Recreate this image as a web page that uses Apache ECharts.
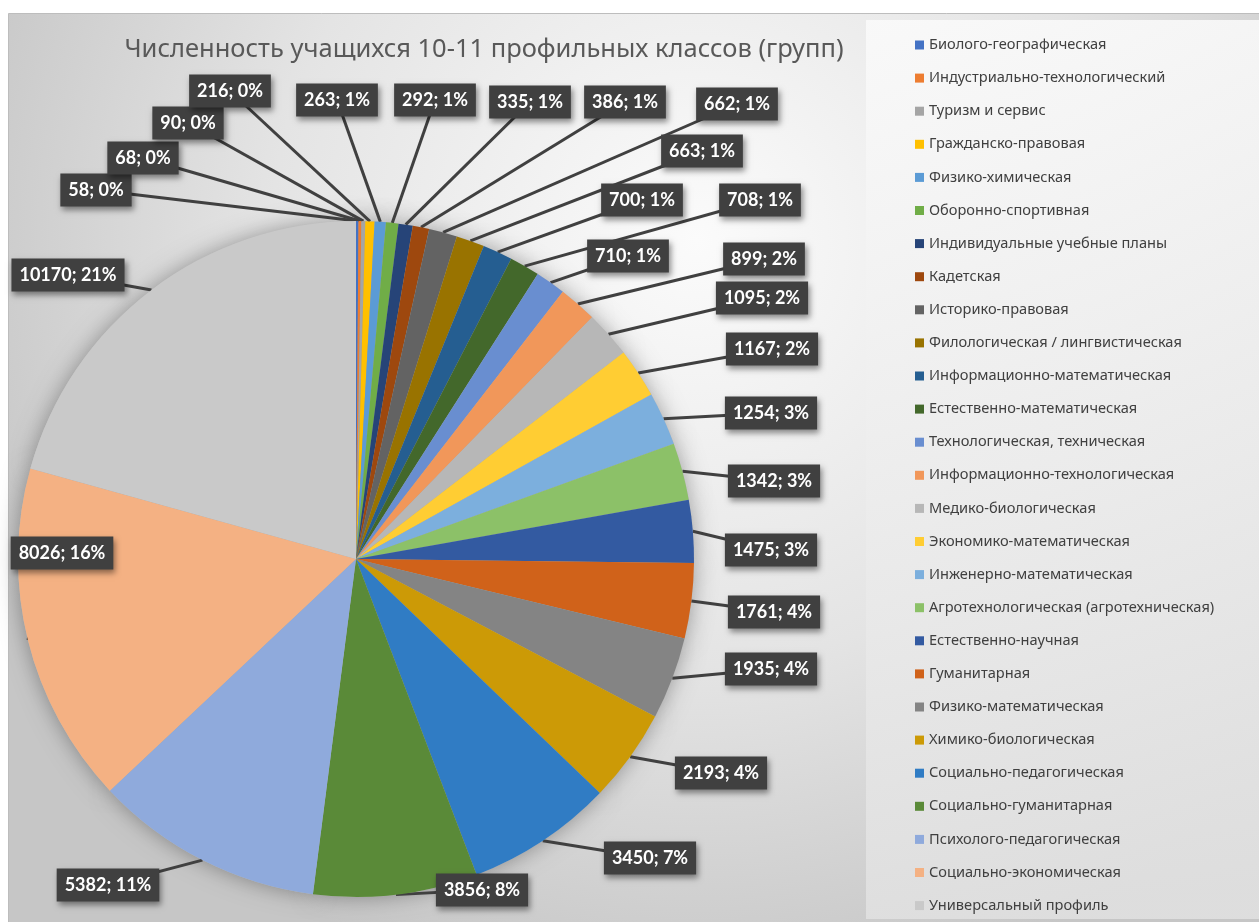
<!DOCTYPE html>
<html>
<head>
<meta charset="utf-8">
<title>Численность учащихся 10-11 профильных классов</title>
<script src="https://cdn.jsdelivr.net/npm/echarts@6/dist/echarts.min.js"></script>
<style>
  html, body { margin: 0; padding: 0; background: #fff; }
  #chart { width: 1259px; height: 922px; }
</style>
</head>
<body>
<div id="chart"></div>
<script>
// профили (порядок как в легенде)
var profiles = [
  'Биолого-географическая',
  'Индустриально-технологический',
  'Туризм и сервис',
  'Гражданско-правовая',
  'Физико-химическая',
  'Оборонно-спортивная',
  'Индивидуальные учебные планы',
  'Кадетская',
  'Историко-правовая',
  'Филологическая / лингвистическая',
  'Информационно-математическая',
  'Естественно-математическая',
  'Технологическая, техническая',
  'Информационно-технологическая',
  'Медико-биологическая',
  'Экономико-математическая',
  'Инженерно-математическая',
  'Агротехнологическая (агротехническая)',
  'Естественно-научная',
  'Гуманитарная',
  'Физико-математическая',
  'Химико-биологическая',
  'Социально-педагогическая',
  'Социально-гуманитарная',
  'Психолого-педагогическая',
  'Социально-экономическая',
  'Универсальный профиль'
];

// численность учащихся
var pupils = [58, 68, 90, 216, 263, 292, 335, 386, 662, 663, 700, 708, 710, 899,
  1095, 1167, 1254, 1342, 1475, 1761, 1935, 2193, 3450, 3856, 5382, 8026, 10170];

// цвета (палитра Office)
var colors = [
  '#4472C4', '#ED7D31', '#A5A5A5', '#FFC000', '#5B9BD5', '#70AD47',
  '#264478', '#9E480E', '#636363', '#997300', '#255E91', '#43682B',
  '#698ED0', '#F1975A', '#B7B7B7', '#FFCD33', '#7CAFDD', '#8CC168',
  '#335AA1', '#D0621A', '#848484', '#CC9A06', '#307CC4', '#5A8A38',
  '#8FAADC', '#F4B183', '#C9C9C9'
];

// где стоят подписи (центр плашки, px) - только раскладка
var labelPos = [
  [96, 190], [143, 158], [188, 123], [230, 91], [337, 100], [435, 100],
  [530, 102], [625, 102], [737, 104], [702, 151], [642, 200], [760, 200],
  [628, 256], [764, 259], [762, 298], [772, 349], [771, 413], [774, 481],
  [771, 550], [774, 612], [771, 669], [721, 773], [650, 858], [482, 890],
  [108, 885], [62, 553], [68, 275]
];

var total = pupils.reduce(function(a, b) { return a + b; }, 0);

var pieData = profiles.map(function(name, i) {
  return { name: name, value: pupils[i], itemStyle: { color: colors[i] } };
});

var option = {
  backgroundColor: '#ffffff',
  animation: false,
  graphic: [
    {
      type: 'rect',
      left: 8,
      top: 13,
      z: -10,
      shape: { width: 1251, height: 909 },
      style: {
        fill: new echarts.graphic.RadialGradient(0.55, 0.25, 0.85, [
          { offset: 0, color: '#fbfbfb' },
          { offset: 0.55, color: '#e4e4e4' },
          { offset: 1, color: '#c6c6c6' }
        ]),
        stroke: '#bdbdbd',
        lineWidth: 1
      }
    },
    {
      type: 'rect',
      left: 866,
      top: 20,
      z: -9,
      shape: { width: 393, height: 899 },
      style: {
        fill: new echarts.graphic.LinearGradient(0, 0, 0.3, 1, [
          { offset: 0, color: 'rgba(250,250,250,0.9)' },
          { offset: 1, color: 'rgba(224,224,224,0.9)' }
        ])
      }
    }
  ],
  title: {
    text: 'Численность учащихся 10-11 профильных классов (групп)',
    left: 479,
    textAlign: 'center',
    top: 32,
    textStyle: {
      color: '#595959',
      fontSize: 25.5,
      fontWeight: 'normal',
      fontFamily: 'Noto Sans'
    }
  },
  legend: {
    orient: 'vertical',
    left: 910,
    top: 31,
    icon: 'rect',
    itemWidth: 9,
    itemHeight: 9,
    itemGap: 15.1,
    data: profiles,
    selectedMode: false,
    textStyle: {
      color: '#404040',
      fontSize: 14.6,
      lineHeight: 18,
      fontFamily: 'Noto Sans'
    }
  },
  series: [
    {
      name: 'Численность',
      type: 'pie',
      center: [356, 559],
      radius: 338,
      startAngle: 90,
      clockwise: true,
      avoidLabelOverlap: false,
      z: 3,
      data: pieData,
      itemStyle: { borderWidth: 0 },
      label: {
        show: true,
        position: 'outside',
        overflow: 'none',
        formatter: function(p) {
          return p.value + '; ' + Math.round(p.value / total * 100) + '%';
        },
        color: '#ffffff',
        fontSize: 18,
        lineHeight: 21,
        fontWeight: 'bold',
        fontFamily: 'Lato, "Noto Sans"',
        backgroundColor: '#404040',
        padding: [6, 8],
        shadowColor: 'rgba(0,0,0,0.45)',
        shadowBlur: 6,
        shadowOffsetX: 2,
        shadowOffsetY: 3
      },
      labelLine: {
        show: true,
        length: 10,
        length2: 10,
        lineStyle: { color: '#404040', width: 3 }
      },
      labelLayout: function(params) {
        var pos = labelPos[params.dataIndex];
        var start = params.labelLinePoints ? params.labelLinePoints[0] : pos;
        return {
          x: pos[0],
          y: pos[1],
          align: 'center',
          verticalAlign: 'middle',
          labelLinePoints: [start, pos]
        };
      },
      emphasis: { disabled: true }
    },
    {
      // тень под кругом
      type: 'pie',
      center: [356, 559],
      radius: 338,
      startAngle: 90,
      silent: true,
      z: 1,
      data: pupils.map(function(v) { return { value: v }; }),
      itemStyle: {
        color: '#bdbdbd',
        shadowColor: 'rgba(0,0,0,0.35)',
        shadowBlur: 22
      },
      label: { show: false },
      labelLine: { show: false }
    }
  ]
};

var myChart = echarts.init(document.getElementById('chart'));
myChart.setOption(option);
</script>
</body>
</html>
